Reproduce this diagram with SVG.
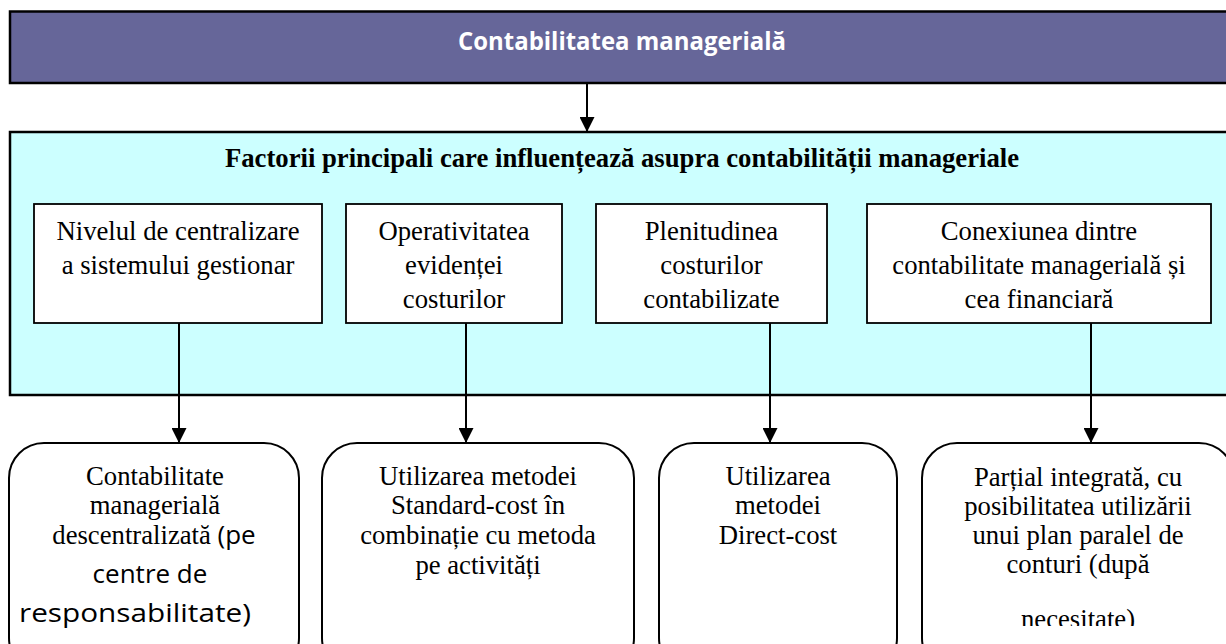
<svg xmlns="http://www.w3.org/2000/svg" width="1226" height="644" viewBox="0 0 1226 644">
<defs>
<marker id="ah" markerWidth="15" markerHeight="15" refX="15" refY="7.5" orient="auto" markerUnits="userSpaceOnUse">
<path d="M0,0 L15,7.5 L0,15 Z" fill="#000"/>
</marker>
<clipPath id="clip4"><rect x="900" y="440" width="330" height="186"/></clipPath>
</defs>
<style>
.hdr{fill:#666699;stroke:#000;stroke-width:2.5}
.panel{fill:#CCFFFF;stroke:#000;stroke-width:2.5}
.box{fill:#fff;stroke:#000;stroke-width:1.8}
.rbox{fill:#fff;stroke:#000;stroke-width:2}
.conn{stroke:#000;stroke-width:2;fill:none}
.t{font-family:"Liberation Serif","Times New Roman",serif;font-size:26.7px;fill:#000;text-anchor:middle}
.tb{font-family:"Liberation Serif","Times New Roman",serif;font-size:26.7px;font-weight:bold;fill:#000;text-anchor:middle}
.s{font-family:"Open Sans","Liberation Sans",sans-serif;font-size:26px;fill:#000}
.h{font-family:"Open Sans","Liberation Sans",sans-serif;font-size:25px;font-weight:bold;fill:#fff;text-anchor:middle}
</style>

<g id="header">
<rect class="hdr" x="10" y="11.5" width="1240" height="71.5"/>
<text class="h" x="622" y="50" textLength="328" lengthAdjust="spacingAndGlyphs">Contabilitatea managerială</text>
</g>

<g id="factors">
<rect class="panel" x="10" y="132" width="1240" height="263"/>
<text class="tb" x="622" y="167">Factorii principali care influențează asupra contabilității manageriale</text>
</g>

<g id="f1">
<rect class="box" x="34" y="204" width="288" height="119"/>
<text class="t" x="178" y="240">Nivelul de centralizare</text>
<text class="t" x="178" y="274">a sistemului gestionar</text>
</g>
<g id="f2">
<rect class="box" x="346" y="204" width="216" height="119"/>
<text class="t" x="454" y="240">Operativitatea</text>
<text class="t" x="454" y="274">evidenței</text>
<text class="t" x="454" y="308">costurilor</text>
</g>
<g id="f3">
<rect class="box" x="596" y="204" width="231" height="119"/>
<text class="t" x="711.5" y="240">Plenitudinea</text>
<text class="t" x="711.5" y="274">costurilor</text>
<text class="t" x="711.5" y="308">contabilizate</text>
</g>
<g id="f4">
<rect class="box" x="867" y="204" width="344" height="119"/>
<text class="t" x="1039" y="240">Conexiunea dintre</text>
<text class="t" x="1039" y="274">contabilitate managerială și</text>
<text class="t" x="1039" y="308">cea financiară</text>
</g>

<g id="r1">
<rect class="rbox" x="9" y="443" width="290" height="230" rx="35" ry="35"/>
<text class="t" x="155" y="485">Contabilitate</text>
<text class="t" x="155" y="514">managerială</text>
<text class="t" x="154" y="544"><tspan>descentralizată </tspan><tspan class="s">(pe</tspan></text>
<text class="s" x="150" y="583" text-anchor="middle">centre de</text>
<text class="s" x="19" y="622" textLength="232" lengthAdjust="spacingAndGlyphs">responsabilitate)</text>
</g>
<g id="r2">
<rect class="rbox" x="322" y="443" width="312" height="230" rx="35" ry="35"/>
<text class="t" x="478" y="485">Utilizarea metodei</text>
<text class="t" x="478" y="514">Standard-cost în</text>
<text class="t" x="478" y="544">combinație cu metoda</text>
<text class="t" x="478" y="574">pe activități</text>
</g>
<g id="r3">
<rect class="rbox" x="659" y="443" width="238" height="230" rx="35" ry="35"/>
<text class="t" x="778" y="485">Utilizarea</text>
<text class="t" x="778" y="514">metodei</text>
<text class="t" x="778" y="544">Direct-cost</text>
</g>
<g id="r4">
<rect class="rbox" x="922" y="443" width="312" height="230" rx="35" ry="35"/>
<g clip-path="url(#clip4)">
<text class="t" x="1078" y="486">Parțial integrată, cu</text>
<text class="t" x="1078" y="515">posibilitatea utilizării</text>
<text class="t" x="1078" y="544">unui plan paralel de</text>
<text class="t" x="1078" y="573">conturi (după</text>
<text class="t" x="1078" y="628">necesitate)</text>
</g>
</g>

<g id="connectors">
<line class="conn" x1="587" y1="83" x2="587" y2="132" marker-end="url(#ah)"/>
<line class="conn" x1="179" y1="323" x2="179" y2="443" marker-end="url(#ah)"/>
<line class="conn" x1="466" y1="323" x2="466" y2="443" marker-end="url(#ah)"/>
<line class="conn" x1="770" y1="323" x2="770" y2="443" marker-end="url(#ah)"/>
<line class="conn" x1="1091" y1="323" x2="1091" y2="443" marker-end="url(#ah)"/>
</g>
</svg>
